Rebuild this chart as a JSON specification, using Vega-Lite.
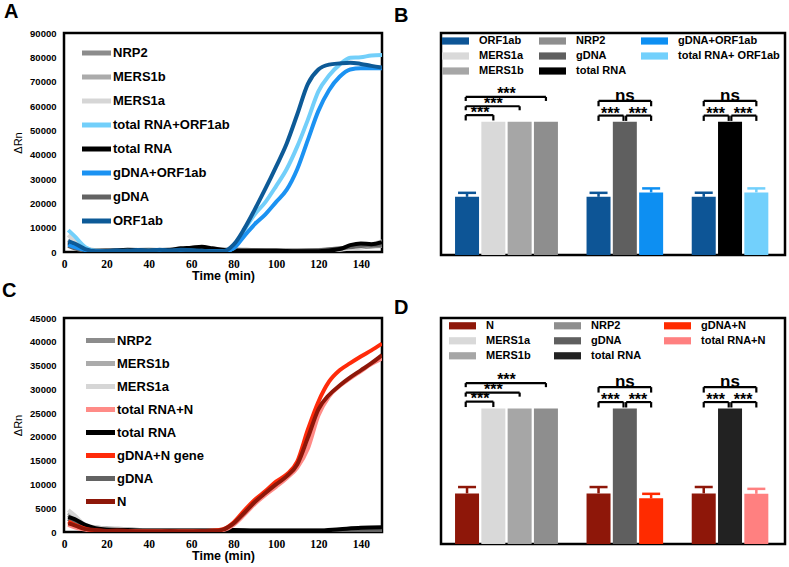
{
"$schema": "https://vega.github.io/schema/vega-lite/v6.json",
"padding": {"left": 0, "top": 0, "right": 0, "bottom": 0},
"background": "white",
"spacing": -5,
"resolve": {"scale": {"color": "independent"}, "legend": {"color": "independent"}},
"config": {
  "font": "Liberation Sans",
  "view": {"stroke": "black", "strokeWidth": 2.5},
  "axis": {"grid": false, "labelColor": "black", "titleColor": "black"},
  "title": {"fontSize": 20, "fontWeight": "bold", "anchor": "start", "frame": "group", "baseline": "alphabetic", "color": "black"}
},
"datasets": {
  "lineA": [
    {"s":"NRP2","t":2,"v":4000},{"s":"NRP2","t":5,"v":2500},{"s":"NRP2","t":10,"v":800},{"s":"NRP2","t":20,"v":700},{"s":"NRP2","t":30,"v":800},{"s":"NRP2","t":40,"v":700},{"s":"NRP2","t":50,"v":600},{"s":"NRP2","t":60,"v":700},{"s":"NRP2","t":70,"v":900},{"s":"NRP2","t":80,"v":1000},{"s":"NRP2","t":90,"v":800},{"s":"NRP2","t":100,"v":700},{"s":"NRP2","t":110,"v":600},{"s":"NRP2","t":120,"v":800},{"s":"NRP2","t":130,"v":1200},{"s":"NRP2","t":140,"v":2000},{"s":"NRP2","t":150,"v":2500},
    {"s":"MERS1b","t":2,"v":5000},{"s":"MERS1b","t":5,"v":3000},{"s":"MERS1b","t":10,"v":1000},{"s":"MERS1b","t":20,"v":600},{"s":"MERS1b","t":30,"v":700},{"s":"MERS1b","t":40,"v":600},{"s":"MERS1b","t":50,"v":700},{"s":"MERS1b","t":60,"v":600},{"s":"MERS1b","t":70,"v":800},{"s":"MERS1b","t":80,"v":900},{"s":"MERS1b","t":90,"v":700},{"s":"MERS1b","t":100,"v":600},{"s":"MERS1b","t":110,"v":500},{"s":"MERS1b","t":120,"v":600},{"s":"MERS1b","t":130,"v":1000},{"s":"MERS1b","t":140,"v":2500},{"s":"MERS1b","t":150,"v":3500},
    {"s":"MERS1a","t":2,"v":7000},{"s":"MERS1a","t":5,"v":4500},{"s":"MERS1a","t":10,"v":1500},{"s":"MERS1a","t":20,"v":500},{"s":"MERS1a","t":30,"v":500},{"s":"MERS1a","t":40,"v":600},{"s":"MERS1a","t":50,"v":500},{"s":"MERS1a","t":60,"v":400},{"s":"MERS1a","t":70,"v":500},{"s":"MERS1a","t":80,"v":600},{"s":"MERS1a","t":90,"v":400},{"s":"MERS1a","t":100,"v":300},{"s":"MERS1a","t":110,"v":400},{"s":"MERS1a","t":120,"v":500},{"s":"MERS1a","t":130,"v":900},{"s":"MERS1a","t":140,"v":2000},{"s":"MERS1a","t":150,"v":4500},
    {"s":"gDNA","t":2,"v":2500},{"s":"gDNA","t":5,"v":1500},{"s":"gDNA","t":10,"v":600},{"s":"gDNA","t":20,"v":700},{"s":"gDNA","t":30,"v":800},{"s":"gDNA","t":40,"v":900},{"s":"gDNA","t":50,"v":700},{"s":"gDNA","t":60,"v":800},{"s":"gDNA","t":70,"v":900},{"s":"gDNA","t":80,"v":800},{"s":"gDNA","t":90,"v":700},{"s":"gDNA","t":100,"v":600},{"s":"gDNA","t":110,"v":500},{"s":"gDNA","t":120,"v":700},{"s":"gDNA","t":130,"v":1500},{"s":"gDNA","t":140,"v":2500},{"s":"gDNA","t":150,"v":3000},
    {"s":"total RNA","t":2,"v":3500},{"s":"total RNA","t":5,"v":2500},{"s":"total RNA","t":10,"v":800},{"s":"total RNA","t":20,"v":300},{"s":"total RNA","t":30,"v":900},{"s":"total RNA","t":40,"v":700},{"s":"total RNA","t":50,"v":900},{"s":"total RNA","t":55,"v":1500},{"s":"total RNA","t":60,"v":1800},{"s":"total RNA","t":65,"v":2200},{"s":"total RNA","t":70,"v":1500},{"s":"total RNA","t":80,"v":500},{"s":"total RNA","t":90,"v":500},{"s":"total RNA","t":100,"v":500},{"s":"total RNA","t":110,"v":300},{"s":"total RNA","t":120,"v":300},{"s":"total RNA","t":130,"v":1200},{"s":"total RNA","t":135,"v":2800},{"s":"total RNA","t":140,"v":3500},{"s":"total RNA","t":145,"v":3200},{"s":"total RNA","t":150,"v":4000},
    {"s":"total RNA+ORF1ab","t":2,"v":9000},{"s":"total RNA+ORF1ab","t":5,"v":6500},{"s":"total RNA+ORF1ab","t":10,"v":2000},{"s":"total RNA+ORF1ab","t":15,"v":500},{"s":"total RNA+ORF1ab","t":20,"v":300},{"s":"total RNA+ORF1ab","t":25,"v":400},{"s":"total RNA+ORF1ab","t":30,"v":500},{"s":"total RNA+ORF1ab","t":35,"v":400},{"s":"total RNA+ORF1ab","t":40,"v":600},{"s":"total RNA+ORF1ab","t":45,"v":500},{"s":"total RNA+ORF1ab","t":50,"v":400},{"s":"total RNA+ORF1ab","t":55,"v":600},{"s":"total RNA+ORF1ab","t":60,"v":500},{"s":"total RNA+ORF1ab","t":65,"v":400},{"s":"total RNA+ORF1ab","t":70,"v":300},{"s":"total RNA+ORF1ab","t":75,"v":300},{"s":"total RNA+ORF1ab","t":80,"v":1500},{"s":"total RNA+ORF1ab","t":85,"v":9000},{"s":"total RNA+ORF1ab","t":90,"v":15500},{"s":"total RNA+ORF1ab","t":95,"v":20500},{"s":"total RNA+ORF1ab","t":100,"v":27000},{"s":"total RNA+ORF1ab","t":105,"v":34000},{"s":"total RNA+ORF1ab","t":110,"v":43300},{"s":"total RNA+ORF1ab","t":115,"v":54300},{"s":"total RNA+ORF1ab","t":120,"v":66000},{"s":"total RNA+ORF1ab","t":125,"v":72500},{"s":"total RNA+ORF1ab","t":130,"v":77000},{"s":"total RNA+ORF1ab","t":135,"v":79800},{"s":"total RNA+ORF1ab","t":140,"v":80000},{"s":"total RNA+ORF1ab","t":145,"v":80800},{"s":"total RNA+ORF1ab","t":150,"v":81000},
    {"s":"gDNA+ORF1ab","t":2,"v":3000},{"s":"gDNA+ORF1ab","t":5,"v":2000},{"s":"gDNA+ORF1ab","t":10,"v":800},{"s":"gDNA+ORF1ab","t":15,"v":300},{"s":"gDNA+ORF1ab","t":20,"v":300},{"s":"gDNA+ORF1ab","t":25,"v":500},{"s":"gDNA+ORF1ab","t":30,"v":400},{"s":"gDNA+ORF1ab","t":35,"v":600},{"s":"gDNA+ORF1ab","t":40,"v":400},{"s":"gDNA+ORF1ab","t":45,"v":700},{"s":"gDNA+ORF1ab","t":50,"v":500},{"s":"gDNA+ORF1ab","t":55,"v":600},{"s":"gDNA+ORF1ab","t":60,"v":500},{"s":"gDNA+ORF1ab","t":65,"v":400},{"s":"gDNA+ORF1ab","t":70,"v":300},{"s":"gDNA+ORF1ab","t":75,"v":200},{"s":"gDNA+ORF1ab","t":80,"v":1500},{"s":"gDNA+ORF1ab","t":85,"v":6500},{"s":"gDNA+ORF1ab","t":90,"v":11500},{"s":"gDNA+ORF1ab","t":95,"v":15500},{"s":"gDNA+ORF1ab","t":100,"v":20500},{"s":"gDNA+ORF1ab","t":105,"v":25500},{"s":"gDNA+ORF1ab","t":110,"v":34000},{"s":"gDNA+ORF1ab","t":115,"v":46000},{"s":"gDNA+ORF1ab","t":120,"v":58000},{"s":"gDNA+ORF1ab","t":125,"v":66500},{"s":"gDNA+ORF1ab","t":130,"v":72000},{"s":"gDNA+ORF1ab","t":135,"v":75000},{"s":"gDNA+ORF1ab","t":140,"v":75500},{"s":"gDNA+ORF1ab","t":145,"v":75500},{"s":"gDNA+ORF1ab","t":150,"v":75500},
    {"s":"ORF1ab","t":2,"v":4500},{"s":"ORF1ab","t":5,"v":3500},{"s":"ORF1ab","t":10,"v":1200},{"s":"ORF1ab","t":15,"v":300},{"s":"ORF1ab","t":20,"v":400},{"s":"ORF1ab","t":25,"v":600},{"s":"ORF1ab","t":30,"v":500},{"s":"ORF1ab","t":35,"v":800},{"s":"ORF1ab","t":40,"v":500},{"s":"ORF1ab","t":45,"v":900},{"s":"ORF1ab","t":50,"v":600},{"s":"ORF1ab","t":55,"v":900},{"s":"ORF1ab","t":60,"v":700},{"s":"ORF1ab","t":65,"v":500},{"s":"ORF1ab","t":70,"v":300},{"s":"ORF1ab","t":75,"v":300},{"s":"ORF1ab","t":80,"v":3000},{"s":"ORF1ab","t":85,"v":9500},{"s":"ORF1ab","t":90,"v":17500},{"s":"ORF1ab","t":95,"v":26000},{"s":"ORF1ab","t":100,"v":35000},{"s":"ORF1ab","t":105,"v":44500},{"s":"ORF1ab","t":110,"v":56500},{"s":"ORF1ab","t":115,"v":69000},{"s":"ORF1ab","t":120,"v":75000},{"s":"ORF1ab","t":125,"v":77000},{"s":"ORF1ab","t":130,"v":77500},{"s":"ORF1ab","t":135,"v":77800},{"s":"ORF1ab","t":140,"v":77300},{"s":"ORF1ab","t":145,"v":76500},{"s":"ORF1ab","t":150,"v":75800}
  ],
  "lineC": [
    {"s":"NRP2","t":2,"v":3500},{"s":"NRP2","t":5,"v":2500},{"s":"NRP2","t":10,"v":1200},{"s":"NRP2","t":20,"v":800},{"s":"NRP2","t":30,"v":600},{"s":"NRP2","t":40,"v":300},{"s":"NRP2","t":50,"v":300},{"s":"NRP2","t":60,"v":300},{"s":"NRP2","t":70,"v":300},{"s":"NRP2","t":80,"v":300},{"s":"NRP2","t":90,"v":300},{"s":"NRP2","t":100,"v":300},{"s":"NRP2","t":110,"v":300},{"s":"NRP2","t":120,"v":300},{"s":"NRP2","t":130,"v":400},{"s":"NRP2","t":140,"v":500},{"s":"NRP2","t":150,"v":600},
    {"s":"MERS1b","t":2,"v":4000},{"s":"MERS1b","t":5,"v":3000},{"s":"MERS1b","t":10,"v":1300},{"s":"MERS1b","t":20,"v":600},{"s":"MERS1b","t":30,"v":500},{"s":"MERS1b","t":40,"v":300},{"s":"MERS1b","t":50,"v":300},{"s":"MERS1b","t":60,"v":300},{"s":"MERS1b","t":70,"v":300},{"s":"MERS1b","t":80,"v":300},{"s":"MERS1b","t":90,"v":300},{"s":"MERS1b","t":100,"v":300},{"s":"MERS1b","t":110,"v":300},{"s":"MERS1b","t":120,"v":400},{"s":"MERS1b","t":130,"v":400},{"s":"MERS1b","t":140,"v":400},{"s":"MERS1b","t":150,"v":400},
    {"s":"MERS1a","t":2,"v":4600},{"s":"MERS1a","t":5,"v":3500},{"s":"MERS1a","t":10,"v":1500},{"s":"MERS1a","t":20,"v":700},{"s":"MERS1a","t":30,"v":500},{"s":"MERS1a","t":40,"v":300},{"s":"MERS1a","t":50,"v":300},{"s":"MERS1a","t":60,"v":300},{"s":"MERS1a","t":70,"v":300},{"s":"MERS1a","t":80,"v":400},{"s":"MERS1a","t":90,"v":300},{"s":"MERS1a","t":100,"v":300},{"s":"MERS1a","t":110,"v":300},{"s":"MERS1a","t":120,"v":300},{"s":"MERS1a","t":130,"v":400},{"s":"MERS1a","t":140,"v":400},{"s":"MERS1a","t":150,"v":500},
    {"s":"gDNA","t":2,"v":2800},{"s":"gDNA","t":5,"v":2000},{"s":"gDNA","t":10,"v":1000},{"s":"gDNA","t":20,"v":300},{"s":"gDNA","t":30,"v":200},{"s":"gDNA","t":40,"v":200},{"s":"gDNA","t":50,"v":200},{"s":"gDNA","t":60,"v":200},{"s":"gDNA","t":70,"v":200},{"s":"gDNA","t":80,"v":200},{"s":"gDNA","t":90,"v":200},{"s":"gDNA","t":100,"v":200},{"s":"gDNA","t":110,"v":200},{"s":"gDNA","t":120,"v":200},{"s":"gDNA","t":130,"v":300},{"s":"gDNA","t":140,"v":300},{"s":"gDNA","t":150,"v":300},
    {"s":"total RNA","t":2,"v":3200},{"s":"total RNA","t":5,"v":2700},{"s":"total RNA","t":10,"v":1500},{"s":"total RNA","t":20,"v":500},{"s":"total RNA","t":30,"v":400},{"s":"total RNA","t":40,"v":300},{"s":"total RNA","t":50,"v":300},{"s":"total RNA","t":60,"v":300},{"s":"total RNA","t":70,"v":300},{"s":"total RNA","t":80,"v":400},{"s":"total RNA","t":90,"v":300},{"s":"total RNA","t":100,"v":300},{"s":"total RNA","t":110,"v":300},{"s":"total RNA","t":120,"v":300},{"s":"total RNA","t":130,"v":600},{"s":"total RNA","t":140,"v":900},{"s":"total RNA","t":150,"v":1000},
    {"s":"total RNA+N","t":2,"v":1500},{"s":"total RNA+N","t":5,"v":1000},{"s":"total RNA+N","t":10,"v":500},{"s":"total RNA+N","t":15,"v":200},{"s":"total RNA+N","t":20,"v":200},{"s":"total RNA+N","t":25,"v":200},{"s":"total RNA+N","t":30,"v":100},{"s":"total RNA+N","t":35,"v":100},{"s":"total RNA+N","t":40,"v":100},{"s":"total RNA+N","t":45,"v":100},{"s":"total RNA+N","t":50,"v":100},{"s":"total RNA+N","t":55,"v":100},{"s":"total RNA+N","t":60,"v":100},{"s":"total RNA+N","t":65,"v":100},{"s":"total RNA+N","t":70,"v":200},{"s":"total RNA+N","t":75,"v":400},{"s":"total RNA+N","t":80,"v":1500},{"s":"total RNA+N","t":85,"v":3600},{"s":"total RNA+N","t":90,"v":5900},{"s":"total RNA+N","t":95,"v":7800},{"s":"total RNA+N","t":100,"v":9500},{"s":"total RNA+N","t":105,"v":11300},{"s":"total RNA+N","t":110,"v":13500},{"s":"total RNA+N","t":115,"v":17500},{"s":"total RNA+N","t":120,"v":24500},{"s":"total RNA+N","t":125,"v":28500},{"s":"total RNA+N","t":130,"v":30700},{"s":"total RNA+N","t":135,"v":32300},{"s":"total RNA+N","t":140,"v":33800},{"s":"total RNA+N","t":145,"v":35300},{"s":"total RNA+N","t":150,"v":36500},
    {"s":"gDNA+N gene","t":2,"v":2200},{"s":"gDNA+N gene","t":5,"v":1500},{"s":"gDNA+N gene","t":10,"v":700},{"s":"gDNA+N gene","t":15,"v":300},{"s":"gDNA+N gene","t":20,"v":200},{"s":"gDNA+N gene","t":25,"v":200},{"s":"gDNA+N gene","t":30,"v":100},{"s":"gDNA+N gene","t":35,"v":100},{"s":"gDNA+N gene","t":40,"v":100},{"s":"gDNA+N gene","t":45,"v":100},{"s":"gDNA+N gene","t":50,"v":100},{"s":"gDNA+N gene","t":55,"v":100},{"s":"gDNA+N gene","t":60,"v":100},{"s":"gDNA+N gene","t":65,"v":200},{"s":"gDNA+N gene","t":70,"v":300},{"s":"gDNA+N gene","t":75,"v":600},{"s":"gDNA+N gene","t":80,"v":2000},{"s":"gDNA+N gene","t":85,"v":4500},{"s":"gDNA+N gene","t":90,"v":6800},{"s":"gDNA+N gene","t":95,"v":8600},{"s":"gDNA+N gene","t":100,"v":10600},{"s":"gDNA+N gene","t":105,"v":12100},{"s":"gDNA+N gene","t":110,"v":14800},{"s":"gDNA+N gene","t":115,"v":21500},{"s":"gDNA+N gene","t":120,"v":27400},{"s":"gDNA+N gene","t":125,"v":31600},{"s":"gDNA+N gene","t":130,"v":34000},{"s":"gDNA+N gene","t":135,"v":35500},{"s":"gDNA+N gene","t":140,"v":36900},{"s":"gDNA+N gene","t":145,"v":38200},{"s":"gDNA+N gene","t":150,"v":39600},
    {"s":"N","t":2,"v":1800},{"s":"N","t":5,"v":1400},{"s":"N","t":10,"v":600},{"s":"N","t":15,"v":400},{"s":"N","t":20,"v":200},{"s":"N","t":25,"v":300},{"s":"N","t":30,"v":200},{"s":"N","t":35,"v":100},{"s":"N","t":40,"v":100},{"s":"N","t":45,"v":100},{"s":"N","t":50,"v":200},{"s":"N","t":55,"v":100},{"s":"N","t":60,"v":100},{"s":"N","t":65,"v":200},{"s":"N","t":70,"v":200},{"s":"N","t":75,"v":500},{"s":"N","t":80,"v":1800},{"s":"N","t":85,"v":4000},{"s":"N","t":90,"v":6300},{"s":"N","t":95,"v":8200},{"s":"N","t":100,"v":10000},{"s":"N","t":105,"v":11700},{"s":"N","t":110,"v":14200},{"s":"N","t":115,"v":19800},{"s":"N","t":120,"v":25800},{"s":"N","t":125,"v":28800},{"s":"N","t":130,"v":30800},{"s":"N","t":135,"v":32500},{"s":"N","t":140,"v":34000},{"s":"N","t":145,"v":35500},{"s":"N","t":150,"v":37200}
  ],
  "barB": [
    {"slot":0,"s":"ORF1ab","ct":33.1,"hi":34.0},
    {"slot":1,"s":"MERS1a","ct":50},
    {"slot":2,"s":"MERS1b","ct":50},
    {"slot":3,"s":"NRP2","ct":50},
    {"slot":5,"s":"ORF1ab","ct":33.1,"hi":34.0},
    {"slot":6,"s":"gDNA","ct":50},
    {"slot":7,"s":"gDNA+ORF1ab","ct":34.1,"hi":35.0},
    {"slot":9,"s":"ORF1ab","ct":33.1,"hi":34.0},
    {"slot":10,"s":"total RNA","ct":50},
    {"slot":11,"s":"total RNA+ ORF1ab","ct":34.1,"hi":35.0}
  ],
  "barD": [
    {"slot":0,"s":"N","ct":31.2,"hi":32.6},
    {"slot":1,"s":"MERS1a","ct":50},
    {"slot":2,"s":"MERS1b","ct":50},
    {"slot":3,"s":"NRP2","ct":50},
    {"slot":5,"s":"N","ct":31.2,"hi":32.6},
    {"slot":6,"s":"gDNA","ct":50},
    {"slot":7,"s":"gDNA+N","ct":30.1,"hi":31.1},
    {"slot":9,"s":"N","ct":31.2,"hi":32.6},
    {"slot":10,"s":"total RNA","ct":50},
    {"slot":11,"s":"total RNA+N","ct":31.1,"hi":32.2}
  ],
  "brackets": [
    {"x":-0.05,"x2":1,"y":51.5,"y2":51.5},{"x":-0.05,"x2":-0.05,"y":51.5,"y2":50.3},{"x":1,"x2":1,"y":51.5,"y2":50.3},
    {"x":-0.05,"x2":2,"y":53.5,"y2":53.5},{"x":-0.05,"x2":-0.05,"y":53.5,"y2":52.6},{"x":2,"x2":2,"y":53.5,"y2":52.6},
    {"x":-0.05,"x2":3,"y":55.6,"y2":55.6},{"x":-0.05,"x2":-0.05,"y":55.6,"y2":54.7},{"x":3,"x2":3,"y":55.6,"y2":54.7},
    {"x":5,"x2":7,"y":54.7,"y2":54.7},{"x":5,"x2":5,"y":54.7,"y2":53.5},{"x":7,"x2":7,"y":54.7,"y2":53.5},
    {"x":5,"x2":5.95,"y":51.4,"y2":51.4},{"x":5,"x2":5,"y":51.4,"y2":50.2},{"x":5.95,"x2":5.95,"y":51.4,"y2":50.2},
    {"x":6.05,"x2":7,"y":51.4,"y2":51.4},{"x":6.05,"x2":6.05,"y":51.4,"y2":50.2},{"x":7,"x2":7,"y":51.4,"y2":50.2},
    {"x":9,"x2":11,"y":54.7,"y2":54.7},{"x":9,"x2":9,"y":54.7,"y2":53.5},{"x":11,"x2":11,"y":54.7,"y2":53.5},
    {"x":9,"x2":9.95,"y":51.4,"y2":51.4},{"x":9,"x2":9,"y":51.4,"y2":50.2},{"x":9.95,"x2":9.95,"y":51.4,"y2":50.2},
    {"x":10.05,"x2":11,"y":51.4,"y2":51.4},{"x":10.05,"x2":10.05,"y":51.4,"y2":50.2},{"x":11,"x2":11,"y":51.4,"y2":50.2}
  ],
  "sig": [
    {"x":0.5,"y":52.9,"label":"***"},{"x":1,"y":55.0,"label":"***"},{"x":1.5,"y":57.2,"label":"***"},
    {"x":6,"y":55.8,"label":"ns"},{"x":5.45,"y":52.7,"label":"***"},{"x":6.5,"y":52.7,"label":"***"},
    {"x":10,"y":55.8,"label":"ns"},{"x":9.45,"y":52.7,"label":"***"},{"x":10.5,"y":52.7,"label":"***"}
  ]
},
"vconcat": [
 {"spacing": 8, "resolve": {"scale": {"color": "independent"}, "legend": {"color": "independent"}}, "hconcat": [
  {
   "width": 318, "height": 219,
   "title": {"text": "A", "dx": -60, "offset": 6},
   "data": {"name": "lineA"},
   "mark": {"type": "line", "strokeWidth": 4, "interpolate": "monotone", "clip": true},
   "encoding": {
    "x": {"field": "t", "type": "quantitative", "scale": {"domain": [0,150], "nice": false, "zero": false},
          "axis": {"values": [0,20,40,60,80,100,120,140], "labelFont": "Liberation Serif", "labelFontWeight": "bold", "labelFontSize": 11.5, "labelFlush": false, "ticks": false, "domain": false, "labelPadding": 6, "title": "Time (min)", "titleFontSize": 12.5, "titleFontWeight": "bold", "titlePadding": 0}},
    "y": {"field": "v", "type": "quantitative", "scale": {"domain": [0,90000], "nice": false},
          "axis": {"values": [0,10000,20000,30000,40000,50000,60000,70000,80000,90000], "format": "d", "labelFontSize": 9.5, "labelFontWeight": "bold", "ticks": false, "domain": false, "labelPadding": 8, "title": "ΔRn", "titleFontSize": 11, "titleFontWeight": "normal", "titlePadding": 6}},
    "color": {"field": "s", "type": "nominal",
      "scale": {"domain": ["NRP2","MERS1b","MERS1a","total RNA+ORF1ab","total RNA","gDNA+ORF1ab","gDNA","ORF1ab"],
                "range": ["#8c8c8c","#ababab","#d6d6d6","#72cffa","#000000","#1b92f2","#636363","#0d5a97"]},
      "legend": {"orient": "none", "legendX": 18.5, "legendY": 6, "direction": "vertical", "columns": 1, "title": null, "symbolType": "M-1.26,0H1.26", "symbolSize": 529, "symbolStrokeWidth": 5, "symbolOpacity": 1, "labelFontSize": 13, "labelFontWeight": "bold", "labelOffset": 2.5, "rowPadding": 0, "padding": 0, "labelColor": "black"}}
   }
  },
  {
   "width": 344, "height": 222,
   "title": {"text": "B", "dx": -47, "offset": 5},
   "layer": [
    {"data": {"name": "barB"},
     "encoding": {
       "x": {"field": "slot", "type": "quantitative", "scale": {"domain": [-0.8, 11.9], "nice": false, "zero": false}, "axis": null},
       "color": {"field": "s", "type": "nominal",
         "scale": {"domain": ["ORF1ab","NRP2","gDNA+ORF1ab","MERS1a","gDNA","total RNA+ ORF1ab","MERS1b","total RNA"],
                   "range": ["#0d5596","#8e8e8e","#0d8ff2","#d9d9d9","#5f5f5f","#72d0fc","#a6a6a6","#000000"]},
         "legend": {"orient": "none", "legendX": 4.5, "legendY": -2, "direction": "horizontal", "title": null, "columns": 3, "columnPadding": 14, "rowPadding": 0, "symbolType": "M-1.35,-0.36H1.35V0.36H-1.35Z", "symbolSize": 400, "symbolStrokeWidth": 0, "symbolOpacity": 1, "labelFontSize": 11, "labelFontWeight": "bold", "labelOffset": 13.5, "padding": 0, "labelColor": "black"}}
     },
     "layer": [
      {"mark": {"type": "bar", "width": 24, "opacity": 1}, "encoding": {"y": {"field": "ct", "type": "quantitative", "scale": {"domain": [20,70], "nice": false, "zero": false},
          "axis": {"values": [20,30,40,50,60,70], "tickSize": 8, "tickWidth": 2.5, "tickColor": "black", "domain": false, "labelFontWeight": "bold", "labelFontSize": 12.5, "labelPadding": 2, "title": "Ct value", "titleFontSize": 13, "titleFontWeight": "bold", "titlePadding": 5}},
          "y2": {"datum": 20}}},
      {"transform": [{"filter": "isValid(datum.hi)"}], "mark": {"type": "rule", "strokeWidth": 2.5, "opacity": 1},
       "encoding": {"y": {"field": "ct", "type": "quantitative", "scale": {"domain": [20,70], "nice": false, "zero": false}, "axis": null}, "y2": {"field": "hi"}}},
      {"transform": [{"filter": "isValid(datum.hi)"}], "mark": {"type": "tick", "orient": "horizontal", "size": 18, "thickness": 2.5, "opacity": 1},
       "encoding": {"y": {"field": "hi", "type": "quantitative", "scale": {"domain": [20,70], "nice": false, "zero": false}, "axis": null}}}
     ]},
    {"data": {"name": "brackets"}, "mark": {"type": "rule", "strokeWidth": 2.2, "color": "black"},
     "encoding": {"x": {"field": "x", "type": "quantitative", "scale": {"domain": [-0.8, 11.9], "nice": false, "zero": false}, "axis": null}, "x2": {"field": "x2"},
                  "y": {"field": "y", "type": "quantitative", "scale": {"domain": [20,70], "nice": false, "zero": false}, "axis": null}, "y2": {"field": "y2"}}},
    {"data": {"name": "sig"}, "transform": [{"filter": "datum.label == '***'"}],
     "mark": {"type": "text", "fontSize": 16, "fontWeight": "bold", "baseline": "middle", "align": "center", "dy": 4, "color": "black"},
     "encoding": {"x": {"field": "x", "type": "quantitative", "scale": {"domain": [-0.8, 11.9], "nice": false, "zero": false}, "axis": null},
                  "y": {"field": "y", "type": "quantitative", "scale": {"domain": [20,70], "nice": false, "zero": false}, "axis": null}, "text": {"field": "label"}}},
    {"data": {"name": "sig"}, "transform": [{"filter": "datum.label == 'ns'"}],
     "mark": {"type": "text", "fontSize": 17, "fontWeight": "bold", "baseline": "middle", "align": "center", "color": "black"},
     "encoding": {"x": {"field": "x", "type": "quantitative", "scale": {"domain": [-0.8, 11.9], "nice": false, "zero": false}, "axis": null},
                  "y": {"field": "y", "type": "quantitative", "scale": {"domain": [20,70], "nice": false, "zero": false}, "axis": null}, "text": {"field": "label"}}}
   ]
  }
 ]},
 {"spacing": 8, "align": "none", "resolve": {"scale": {"color": "independent"}, "legend": {"color": "independent"}}, "hconcat": [
  {
   "width": 318, "height": 214,
   "title": {"text": "C", "dx": -62, "offset": 12},
   "data": {"name": "lineC"},
   "mark": {"type": "line", "strokeWidth": 4, "interpolate": "monotone", "clip": true},
   "encoding": {
    "x": {"field": "t", "type": "quantitative", "scale": {"domain": [0,150], "nice": false, "zero": false},
          "axis": {"values": [0,20,40,60,80,100,120,140], "labelFont": "Liberation Serif", "labelFontWeight": "bold", "labelFontSize": 11.5, "labelFlush": false, "ticks": false, "domain": false, "labelPadding": 6, "title": "Time (min)", "titleFontSize": 12.5, "titleFontWeight": "bold", "titlePadding": 0}},
    "y": {"field": "v", "type": "quantitative", "scale": {"domain": [0,45000], "nice": false},
          "axis": {"values": [0,5000,10000,15000,20000,25000,30000,35000,40000,45000], "format": "d", "labelFontSize": 9.5, "labelFontWeight": "bold", "ticks": false, "domain": false, "labelPadding": 8, "title": "ΔRn", "titleFontSize": 11, "titleFontWeight": "normal", "titlePadding": 6}},
    "color": {"field": "s", "type": "nominal",
      "scale": {"domain": ["NRP2","MERS1b","MERS1a","total RNA+N","total RNA","gDNA+N gene","gDNA","N"],
                "range": ["#8c8c8c","#ababab","#d6d6d6","#ff8b87","#000000","#ff2b0a","#636363","#8e1709"]},
      "legend": {"orient": "none", "legendX": 23.5, "legendY": 9.5, "direction": "vertical", "columns": 1, "title": null, "symbolType": "M-1.38,0H1.38", "symbolSize": 441, "symbolStrokeWidth": 5, "symbolOpacity": 1, "labelFontSize": 13, "labelFontWeight": "bold", "labelOffset": 3.5, "rowPadding": 0, "padding": 0, "labelColor": "black"}}
   }
  },
  {
   "width": 344, "height": 226,
   "title": {"text": "D", "dx": -47, "offset": -2},
   "layer": [
    {"data": {"name": "barD"},
     "encoding": {
       "x": {"field": "slot", "type": "quantitative", "scale": {"domain": [-0.8, 11.9], "nice": false, "zero": false}, "axis": null},
       "color": {"field": "s", "type": "nominal",
         "scale": {"domain": ["N","NRP2","gDNA+N","MERS1a","gDNA","total RNA+N","MERS1b","total RNA"],
                   "range": ["#8e1709","#8e8e8e","#ff2b00","#d9d9d9","#5f5f5f","#ff8080","#a6a6a6","#222222"]},
         "legend": {"orient": "none", "legendX": 11.5, "legendY": -2.2, "direction": "horizontal", "title": null, "columns": 3, "columnPadding": 22, "rowPadding": 0, "symbolType": "M-1.35,-0.36H1.35V0.36H-1.35Z", "symbolSize": 400, "symbolStrokeWidth": 0, "symbolOpacity": 1, "labelFontSize": 11, "labelFontWeight": "bold", "labelOffset": 13.5, "padding": 0, "labelColor": "black"}}
     },
     "layer": [
      {"mark": {"type": "bar", "width": 24, "opacity": 1}, "encoding": {"y": {"field": "ct", "type": "quantitative", "scale": {"domain": [20,70], "nice": false, "zero": false},
          "axis": {"values": [20,30,40,50,60,70], "tickSize": 8, "tickWidth": 2.5, "tickColor": "black", "domain": false, "labelFontWeight": "bold", "labelFontSize": 12.5, "labelPadding": 2, "title": "Ct value", "titleFontSize": 13, "titleFontWeight": "bold", "titlePadding": 5}},
          "y2": {"datum": 20}}},
      {"transform": [{"filter": "isValid(datum.hi)"}], "mark": {"type": "rule", "strokeWidth": 2.5, "opacity": 1},
       "encoding": {"y": {"field": "ct", "type": "quantitative", "scale": {"domain": [20,70], "nice": false, "zero": false}, "axis": null}, "y2": {"field": "hi"}}},
      {"transform": [{"filter": "isValid(datum.hi)"}], "mark": {"type": "tick", "orient": "horizontal", "size": 18, "thickness": 2.5, "opacity": 1},
       "encoding": {"y": {"field": "hi", "type": "quantitative", "scale": {"domain": [20,70], "nice": false, "zero": false}, "axis": null}}}
     ]},
    {"data": {"name": "brackets"}, "mark": {"type": "rule", "strokeWidth": 2.2, "color": "black"},
     "encoding": {"x": {"field": "x", "type": "quantitative", "scale": {"domain": [-0.8, 11.9], "nice": false, "zero": false}, "axis": null}, "x2": {"field": "x2"},
                  "y": {"field": "y", "type": "quantitative", "scale": {"domain": [20,70], "nice": false, "zero": false}, "axis": null}, "y2": {"field": "y2"}}},
    {"data": {"name": "sig"}, "transform": [{"filter": "datum.label == '***'"}],
     "mark": {"type": "text", "fontSize": 16, "fontWeight": "bold", "baseline": "middle", "align": "center", "dy": 4, "color": "black"},
     "encoding": {"x": {"field": "x", "type": "quantitative", "scale": {"domain": [-0.8, 11.9], "nice": false, "zero": false}, "axis": null},
                  "y": {"field": "y", "type": "quantitative", "scale": {"domain": [20,70], "nice": false, "zero": false}, "axis": null}, "text": {"field": "label"}}},
    {"data": {"name": "sig"}, "transform": [{"filter": "datum.label == 'ns'"}],
     "mark": {"type": "text", "fontSize": 17, "fontWeight": "bold", "baseline": "middle", "align": "center", "color": "black"},
     "encoding": {"x": {"field": "x", "type": "quantitative", "scale": {"domain": [-0.8, 11.9], "nice": false, "zero": false}, "axis": null},
                  "y": {"field": "y", "type": "quantitative", "scale": {"domain": [20,70], "nice": false, "zero": false}, "axis": null}, "text": {"field": "label"}}}
   ]
  }
 ]}
]
}
